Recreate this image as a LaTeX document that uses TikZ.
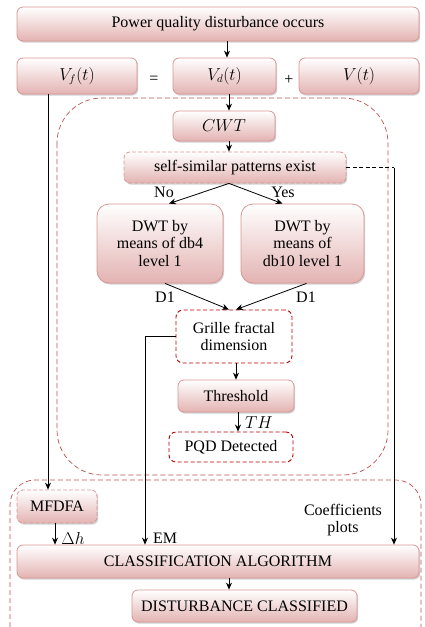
\documentclass[tikz,border=0pt]{standalone}
\usepackage{fontspec}
\setmainfont{Liberation Serif}
\usetikzlibrary{shadows,calc,arrows.meta}
\definecolor{boxborder}{HTML}{D99694}
\definecolor{boxfill}{HTML}{E3B3B2}
\definecolor{dred}{HTML}{C00000}
\definecolor{outl}{HTML}{C0504D}
\tikzset{
  box/.style={rounded corners=6pt, draw=boxborder, line width=0.8pt, top color=white, bottom color=boxfill,
    drop shadow={shadow xshift=1.2pt, shadow yshift=-1.6pt, fill=black!40, opacity=0.45},
    align=center, inner sep=1pt, font=\fontsize{16}{17.5}\selectfont},
  dbox/.style={box, dashed, dash pattern=on 4pt off 2pt},
  rbox/.style={rounded corners=7pt, draw=dred, dashed, line width=0.9pt, fill=white, dash pattern=on 4pt off 2.5pt,
    align=center, inner sep=1pt, font=\fontsize{16}{17.5}\selectfont},
  arr/.style={-{Stealth[length=7pt,width=6pt]}, line width=0.8pt},
  lbl/.style={font=\fontsize{16}{17.5}\selectfont, inner sep=0},
  outline/.style={draw=outl, dashed, dash pattern=on 5pt off 3pt, line width=0.7pt}
}
\begin{document}
\begin{tikzpicture}[x=1pt,y=-1pt]
\useasboundingbox (0,0) rectangle (424,627);
% outlines
\draw[outline, rounded corners=45pt] (57,98) rectangle (388,475);
\draw[outline, rounded corners=25pt] (10,627) -- (10,480) -- (421,480) -- (421,627);
% nodes
\node[box, minimum width=402pt, minimum height=34pt] (top) at (218,24) {Power quality disturbance occurs};
\node[box, minimum width=120pt, minimum height=36pt] (vf) at (77,76) {$V_f(t)$};
\node[box, minimum width=103pt, minimum height=36pt] (vd) at (224.5,76) {$V_d(t)$};
\node[box, minimum width=120pt, minimum height=36pt] (v) at (359,76) {$V(t)$};
\node[lbl] (eq) at (154,80) {=};
\node[lbl] (pl) at (289,80) {+};
\node[box, minimum width=102pt, minimum height=30pt] (cwt) at (224,126) {$CWT$};
\node[dbox, minimum width=222pt, minimum height=31pt] (ss) at (235,167.5) {self-similar patterns exist};
\node[lbl] (no) at (164,192) {No};
\node[lbl] (yes) at (283,192) {Yes};
\node[box, minimum width=126pt, minimum height=79pt, rounded corners=12pt] (db4) at (160,243.5) {DWT by\\means of db4\\level 1};
\node[box, minimum width=123pt, minimum height=79pt, rounded corners=12pt] (db10) at (302.5,243.5) {DWT by\\means of\\db10 level 1};
\node[lbl] (d1a) at (165,297) {D1};
\node[lbl] (d1b) at (306,297) {D1};
\node[rbox, minimum width=116pt, minimum height=53pt] (gr) at (234,336.5) {Grille fractal\\dimension};
\node[box, minimum width=116pt, minimum height=32pt] (th) at (236,396) {Threshold};
\node[lbl] (thl) at (259,423) {$TH$};
\node[rbox, minimum width=124pt, minimum height=30pt] (pqd) at (231,447) {PQD Detected};
\node[dbox, minimum width=80pt, minimum height=33pt] (mf) at (57,506.5) {MFDFA};
\node[lbl] (dh) at (73,538) {$\Delta h$};
\node[lbl] (em) at (165,538) {EM};
\node[lbl, align=center] (coef) at (343,520) {Coefficients\\plots};
\node[box, minimum width=402pt, minimum height=33pt] (cls) at (218,561.5) {CLASSIFICATION ALGORITHM};
\node[box, minimum width=225pt, minimum height=32pt] (dc) at (244.5,606) {DISTURBANCE CLASSIFIED};
% helper coordinates
\coordinate (xa) at (227,0);
\coordinate (xvf) at (48,0);
\coordinate (xem) at (145,0);
\coordinate (xss) at (394,0);
\coordinate (xmf) at (55,0);
\coordinate (xc) at (229,0);
% connectors
\draw[arr] (top.south -| xa) -- (vd.north -| xa);
\draw[arr] (vd.south -| xc) -- (cwt.north -| xc);
\draw[arr] (cwt.south -| xc) -- (ss.north -| xc);
\draw[arr] (ss.south -| xc) -- ($(db4.north)+(9,0)$);
\draw[arr] (ss.south -| xc) -- ($(db10.north)+(-20,0)$);
\draw[arr] ($(db4.south)+(5,0)$) -- ($(gr.north)+(-5,0)$);
\draw[arr] ($(db10.south)+(4,0)$) -- ($(gr.north)+(2,0)$);
\draw[arr] ($(gr.south)+(2,0)$) -- (th.north);
\draw[arr] ($(th.south)+(2,0)$) -- ($(pqd.north)+(7,0)$);
\draw[arr] (gr.west) -| (cls.north -| xem);
\draw[line width=0.8pt, dashed, dash pattern=on 4pt off 2.5pt] (ss.east) -- (xss |- ss.east);
\draw[arr] (xss |- ss.east) -- (cls.north -| xss);
\draw[arr] (vf.south -| xvf) -- (mf.north -| xvf);
\draw[arr] (mf.south -| xmf) -- (cls.north -| xmf);
\draw[arr] (cls.south -| xc) -- (dc.north -| xc);
\end{tikzpicture}
\end{document}
